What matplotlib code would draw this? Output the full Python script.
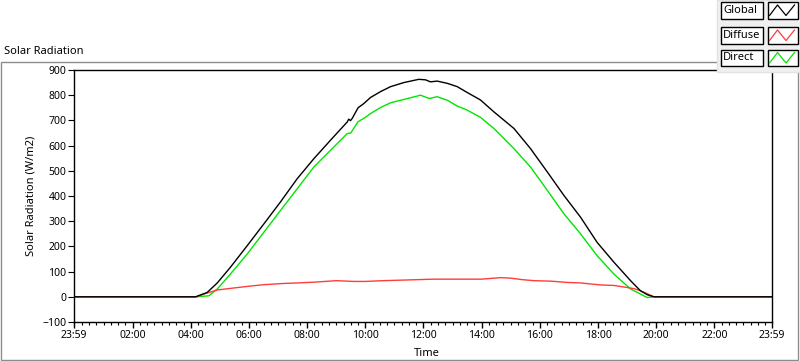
import matplotlib
matplotlib.use("Agg")
import matplotlib.pyplot as plt
from matplotlib.patches import Rectangle
from matplotlib.lines import Line2D
from matplotlib.ticker import MultipleLocator

plt.rcParams["font.family"] = ["Noto Sans", "DejaVu Sans"]

# time of day in hours (axis runs from 23:59 of the previous day to 23:59)
DAY_START = -1 / 60
DAY_END = 23 + 59 / 60

global_t = [DAY_START, 4.16, 4.56, 4.91, 5.36, 5.94, 6.51, 7.08, 7.66, 8.23, 8.80,
            9.38, 9.43, 9.49, 9.55, 9.75, 9.95, 10.18, 10.52, 10.87, 11.32, 11.84,
            12.07, 12.24, 12.47, 12.82, 13.16, 13.50, 13.96, 14.42, 15.11, 15.68,
            16.26, 16.83, 17.40, 17.97, 18.55, 19.12, 19.46, 19.70, 19.92, DAY_END]
global_v = [0, 0, 17, 55, 117, 203, 289, 376, 469, 548, 621,
            694, 705, 699, 708, 750, 767, 791, 814, 834, 850, 863,
            861, 853, 856, 847, 834, 811, 781, 734, 668, 588,
            495, 402, 316, 216, 137, 64, 24, 8, 0, 0]

diffuse_t = [DAY_START, 4.20, 4.50, 4.91, 5.48, 6.00, 6.51, 7.20, 7.66, 8.23, 9.00,
             9.60, 10.00, 10.60, 11.21, 12.35, 13.50, 14.00, 14.65, 15.00, 15.40,
             15.80, 16.40, 16.94, 17.40, 18.09, 18.55, 19.00, 19.25, 19.46, 19.70,
             19.92, DAY_END]
diffuse_v = [0, 0, 13, 27, 35, 42, 48, 53, 55, 58, 64,
             61, 61, 64, 66, 70, 70, 70, 76, 74, 68,
             64, 62, 57, 55, 47, 45, 37, 32, 24, 12,
             0, 0]

direct_t = [DAY_START, 4.20, 4.62, 4.91, 5.36, 5.94, 6.51, 7.08, 7.66, 8.23, 8.80,
            9.38, 9.50, 9.75, 9.95, 10.18, 10.52, 10.87, 11.32, 11.90, 12.20,
            12.47, 12.82, 13.16, 13.50, 13.96, 14.42, 15.11, 15.68, 16.26, 16.83,
            17.40, 17.97, 18.55, 19.12, 19.46, 19.69, 19.92, DAY_END]
direct_v = [0, 0, 4, 31, 90, 170, 256, 342, 429, 515, 581,
            648, 650, 695, 708, 727, 751, 770, 783, 800, 787,
            794, 780, 757, 741, 712, 668, 588, 515, 422, 329,
            250, 163, 90, 31, 11, -3, 0, 0]

series_names = ["Global", "Diffuse", "Direct"]
series_colors = ["#000000", "#ff3c3c", "#00e600"]

x_ticks = [DAY_START, 2, 4, 6, 8, 10, 12, 14, 16, 18, 20, 22, DAY_END]
x_labels = ["23:59", "02:00", "04:00", "06:00", "08:00", "10:00", "12:00",
            "14:00", "16:00", "18:00", "20:00", "22:00", "23:59"]
y_ticks = list(range(-100, 901, 100))

W, H = 800, 361


def fx(px):
    return px / W


def fy(py):
    return 1 - py / H


fig = plt.figure(figsize=(8, 3.61), dpi=100, facecolor="white")

# outer panel frame
fig.patches.append(Rectangle((fx(0.5), fy(359.5)), fx(797), (359 - 61.5) / H,
                             transform=fig.transFigure, fill=False,
                             edgecolor="#8c8c8c", lw=1))

ax = fig.add_axes([fx(74), fy(322), fx(772 - 74), (322 - 70) / H])
ax.set_facecolor("white")

ax.plot(direct_t, direct_v, color=series_colors[2], lw=1)
ax.plot(diffuse_t, diffuse_v, color=series_colors[1], lw=1)
ax.plot(global_t, global_v, color=series_colors[0], lw=1)

ax.set_xlim(DAY_START, DAY_END)
ax.set_ylim(-100, 900)
ax.set_xticks(x_ticks)
ax.set_xticklabels(x_labels)
ax.xaxis.set_minor_locator(MultipleLocator(0.25))
ax.set_yticks(y_ticks)

ax.tick_params(axis="x", which="major", length=4, width=1, pad=2,
               labelsize=7.5, colors="black")
ax.tick_params(axis="x", which="minor", length=2, width=0.8)
ax.tick_params(axis="y", length=4, width=0.8, pad=1.5, labelsize=7.5)
for s in ax.spines.values():
    s.set_linewidth(1)
    s.set_color("black")

fig.text(fx(4), fy(51), "Solar Radiation", fontsize=8, ha="left", va="center")
fig.text(fx(31), fy(196), "Solar Radiation (W/m2)", fontsize=8, rotation=90,
         ha="center", va="center")
fig.text(fx(427), fy(354), "Time", fontsize=8, ha="center", va="center")

# legend panel in the top-right corner
fig.patches.append(Rectangle((fx(717), fy(72)), fx(83), 72 / H,
                             transform=fig.transFigure, facecolor="#f0f0f0",
                             edgecolor="#e2e2e2", lw=1, zorder=5))
row_tops = [2, 27, 49.5]
for name, color, top in zip(series_names, series_colors, row_tops):
    bot = top + 16.5
    fig.patches.append(Rectangle((fx(721), fy(bot)), fx(42), 16.5 / H,
                                 transform=fig.transFigure, facecolor="white",
                                 edgecolor="black", lw=1, zorder=6))
    fig.patches.append(Rectangle((fx(767.5), fy(bot)), fx(30), 16.5 / H,
                                 transform=fig.transFigure, facecolor="white",
                                 edgecolor="black", lw=1, zorder=6))
    fig.text(fx(723), fy((top + bot) / 2), name, fontsize=8, ha="left",
             va="center", zorder=7)
    xs = [fx(p) for p in (769.5, 777.5, 786, 794.5)]
    ys = [fy(p) for p in (bot - 3, top + 3, bot - 3, top + 3)]
    fig.lines.append(Line2D(xs, ys, transform=fig.transFigure, color=color,
                            lw=0.9, zorder=7))

fig.savefig("out.png", dpi=100, facecolor="white")
